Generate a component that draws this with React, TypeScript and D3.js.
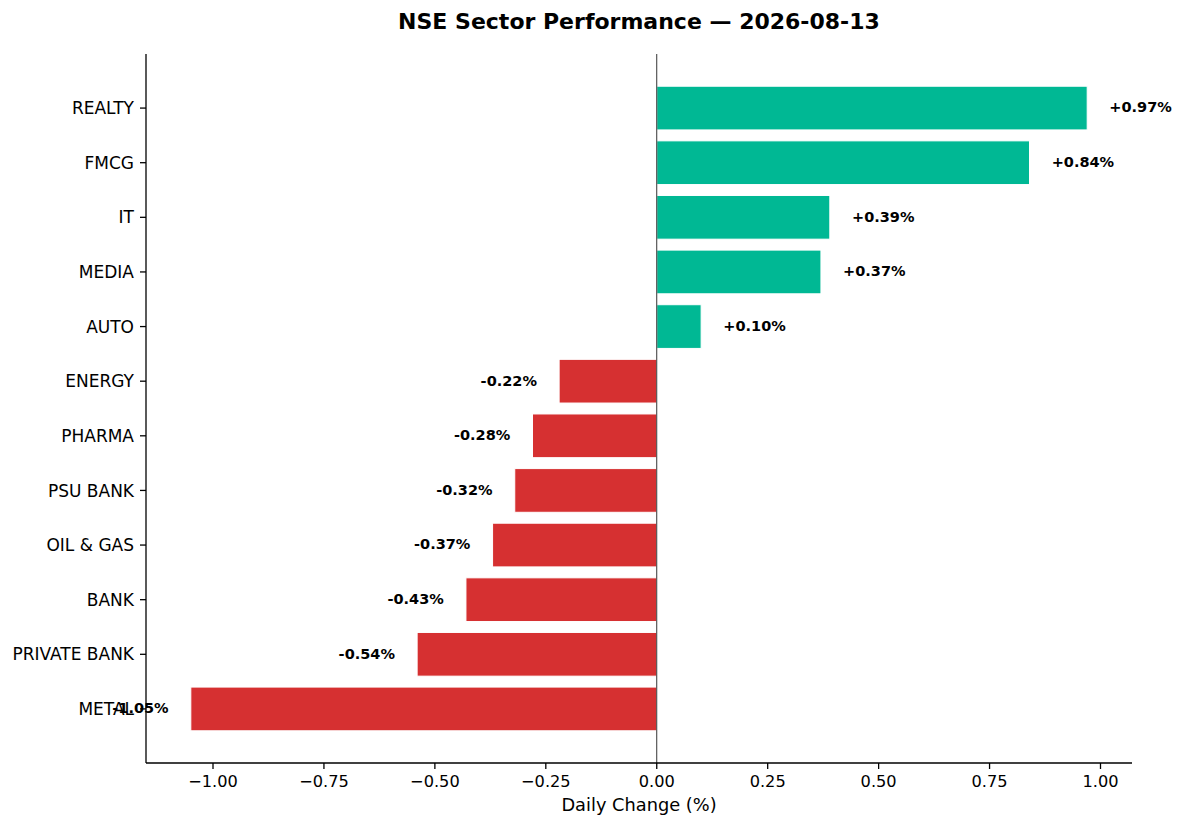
import React from 'react';
import * as d3 from 'd3';

const sectors = ['REALTY', 'FMCG', 'IT', 'MEDIA', 'AUTO', 'ENERGY', 'PHARMA', 'PSU BANK', 'OIL & GAS', 'BANK', 'PRIVATE BANK', 'METAL'];
const changes = [0.97, 0.84, 0.39, 0.37, 0.1, -0.22, -0.28, -0.32, -0.37, -0.43, -0.54, -1.05];
const xTicks = [-1.0, -0.75, -0.5, -0.25, 0, 0.25, 0.5, 0.75, 1.0];

const width = 1184;
const height = 828;
const margin = { top: 54, right: 52, bottom: 65, left: 146 };
const font = "'DejaVu Sans', sans-serif";

export default function App() {
  const innerW = width - margin.left - margin.right;
  const innerH = height - margin.top - margin.bottom;

  // matplotlib-style 5% margins around the data
  const lo = d3.min(changes)!;
  const hi = d3.max(changes)!;
  const pad = (hi - lo) * 0.05;
  const x = d3.scaleLinear().domain([lo - pad, hi + pad]).range([0, innerW]);

  const barH = 0.8;
  const yLo = -barH / 2;
  const yHi = sectors.length - 1 + barH / 2;
  const yPad = (yHi - yLo) * 0.05;
  const y = d3.scaleLinear().domain([yLo - yPad, yHi + yPad]).range([0, innerH]);

  const fmt = (v: number) => (v >= 0 ? '+' : '') + v.toFixed(2) + '%';
  const tickFmt = (v: number) => v.toFixed(2).replace('-', '\u2212');

  return (
    <svg width={width} height={height} style={{ position: 'absolute', left: 0, top: 0, background: '#fff' }} fontFamily={font}>
      <text x={639} y={29} textAnchor="middle" fontSize={22} fontWeight="bold" fill="#000">
        NSE Sector Performance — 2026-08-13
      </text>
      <g transform={`translate(${margin.left},${margin.top})`}>
        {sectors.map((s, i) => {
          const v = changes[i];
          const x0 = x(Math.min(0, v));
          const x1 = x(Math.max(0, v));
          return (
            <rect
              key={s}
              x={x0}
              y={y(i - barH / 2)}
              width={x1 - x0}
              height={y(i + barH / 2) - y(i - barH / 2)}
              fill={v >= 0 ? '#00b894' : '#d63031'}
              stroke="#fff"
              strokeWidth={1}
            />
          );
        })}
        <line x1={x(0)} x2={x(0)} y1={0} y2={innerH} stroke="#333" strokeWidth={1} />
        {sectors.map((s, i) => {
          const v = changes[i];
          const off = v >= 0 ? 0.05 : -0.05;
          return (
            <text
              key={s}
              x={x(v + off)}
              y={y(i)}
              dy="0.3em"
              textAnchor={v >= 0 ? 'start' : 'end'}
              fontSize={14.5}
              fontWeight="bold"
              fill="#000"
            >
              {fmt(v)}
            </text>
          );
        })}
        {/* left axis */}
        <line x1={0} x2={0} y1={0} y2={innerH} stroke="#000" strokeWidth={1.3} />
        {sectors.map((s, i) => (
          <g key={s} transform={`translate(0,${y(i)})`}>
            <line x1={-6} x2={0} stroke="#000" strokeWidth={1.3} />
            <text x={-12} dy="0.36em" textAnchor="end" fontSize={17} fill="#000">
              {s}
            </text>
          </g>
        ))}
        {/* bottom axis */}
        <line x1={0} x2={innerW} y1={innerH} y2={innerH} stroke="#000" strokeWidth={1.3} />
        {xTicks.map((t) => (
          <g key={t} transform={`translate(${x(t)},${innerH})`}>
            <line y1={0} y2={6} stroke="#000" strokeWidth={1.3} />
            <text y={24} textAnchor="middle" fontSize={16.2} fill="#000">
              {tickFmt(t)}
            </text>
          </g>
        ))}
        <text x={innerW / 2} y={innerH + 48} textAnchor="middle" fontSize={17.8} fill="#000">
          Daily Change (%)
        </text>
      </g>
    </svg>
  );
}
